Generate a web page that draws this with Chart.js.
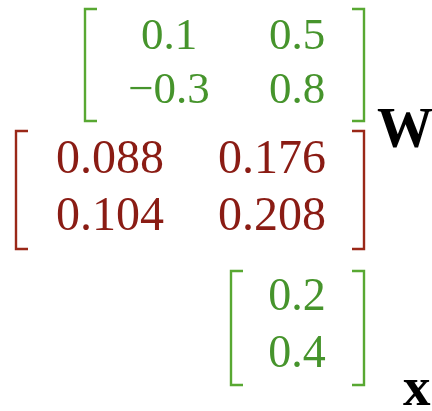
<!DOCTYPE html>
<html>
<head>
<meta charset="utf-8">
<script src="https://cdn.jsdelivr.net/npm/chart.js@4.4.1/dist/chart.umd.min.js"></script>
<style>
  html, body { margin: 0; padding: 0; background: #ffffff; }
  #wrap { width: 432px; height: 411px; position: relative; }
</style>
</head>
<body>
<div id="wrap"><canvas id="matrix-chart"></canvas></div>
<script>
// Matrix values (row by row)
const weightValues = [[0.1, 0.5], [-0.3, 0.8]];
const productValues = [[0.088, 0.176], [0.104, 0.208]];
const inputValues = [[0.2], [0.4]];

// Matrix names
const weightName = 'W';
const inputName = 'x';

// Layout of each block in canvas units (column centres, row baselines, bracket box)
const blocks = [
  {
    values: weightValues, color: '#46942c', bracketColor: '#58a832', font: 45,
    cols: [169, 297], rows: [49, 103], box: [85, 9, 364, 121]
  },
  {
    values: productValues, color: '#8a1c14', bracketColor: '#9a2818', font: 48,
    cols: [110, 272], rows: [173, 230], box: [16, 131, 364, 249]
  },
  {
    values: inputValues, color: '#46942c', bracketColor: '#58a832', font: 46,
    cols: [297], rows: [310, 367], box: [231, 271, 364, 385]
  }
];

const names = [
  { text: weightName, x: 377, y: 147, font: 56 },
  { text: inputName, x: 403, y: 405, font: 55 }
];

// math-style minus sign
function formatValue(v) {
  return (v < 0 ? '\u2212' : '') + String(Math.abs(v));
}

// One scatter dataset per matrix; each point is a cell
const datasets = blocks.map(block => {
  const points = [];
  block.values.forEach((row, r) => {
    row.forEach((v, c) => {
      points.push({ x: block.cols[c], y: block.rows[r], label: formatValue(v) });
    });
  });
  return {
    data: points,
    pointRadius: 0,
    pointHoverRadius: 0,
    showLine: false,
    textColor: block.color,
    bracketColor: block.bracketColor,
    fontSize: block.font,
    box: block.box
  };
});

const matrixPlugin = {
  id: 'matrixText',
  afterDatasetsDraw(chart) {
    const ctx = chart.ctx;
    const xs = chart.scales.x;
    const ys = chart.scales.y;
    ctx.save();

    chart.data.datasets.forEach((ds, i) => {
      const meta = chart.getDatasetMeta(i);

      // cell values
      ctx.fillStyle = ds.textColor;
      ctx.font = ds.fontSize + 'px "Liberation Serif", serif';
      ctx.textAlign = 'center';
      ctx.textBaseline = 'alphabetic';
      meta.data.forEach((pt, j) => {
        ctx.fillText(ds.data[j].label, pt.x, pt.y);
      });

      // brackets
      const left = xs.getPixelForValue(ds.box[0]);
      const top = ys.getPixelForValue(ds.box[1]);
      const right = xs.getPixelForValue(ds.box[2]);
      const bottom = ys.getPixelForValue(ds.box[3]);
      const arm = 12;
      ctx.strokeStyle = ds.bracketColor;
      ctx.lineWidth = 2.4;
      ctx.lineCap = 'butt';
      ctx.beginPath();
      ctx.moveTo(left + arm, top);
      ctx.lineTo(left, top);
      ctx.lineTo(left, bottom);
      ctx.lineTo(left + arm, bottom);
      ctx.moveTo(right - arm, top);
      ctx.lineTo(right, top);
      ctx.lineTo(right, bottom);
      ctx.lineTo(right - arm, bottom);
      ctx.stroke();
    });

    // matrix names
    ctx.fillStyle = '#000000';
    ctx.textAlign = 'left';
    names.forEach(n => {
      ctx.font = 'bold ' + n.font + 'px "Liberation Serif", serif';
      ctx.fillText(n.text, xs.getPixelForValue(n.x), ys.getPixelForValue(n.y));
    });

    ctx.restore();
  }
};

new Chart(document.getElementById('matrix-chart'), {
  type: 'scatter',
  data: { datasets: datasets },
  options: {
    responsive: true,
    maintainAspectRatio: false,
    animation: false,
    layout: { padding: 0 },
    plugins: {
      legend: { display: false },
      tooltip: { enabled: false }
    },
    scales: {
      x: { type: 'linear', min: 0, max: 432, display: false },
      y: { type: 'linear', min: 0, max: 411, reverse: true, display: false }
    }
  },
  plugins: [matrixPlugin]
});
</script>
</body>
</html>
